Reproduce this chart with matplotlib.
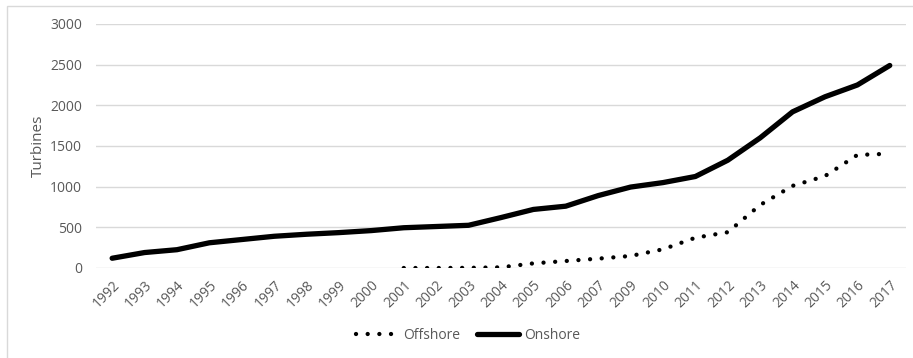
import matplotlib
matplotlib.use("Agg")
import matplotlib.pyplot as plt
from matplotlib.patches import Rectangle

plt.rcParams['font.family'] = ['Open Sans', 'DejaVu Sans']

# Wind turbines installed per year (2008 not reported)
years = ['1992', '1993', '1994', '1995', '1996', '1997', '1998', '1999', '2000',
         '2001', '2002', '2003', '2004', '2005', '2006', '2007', '2009', '2010',
         '2011', '2012', '2013', '2014', '2015', '2016', '2017']
onshore = [120, 190, 225, 310, 350, 390, 415, 435, 460, 495, 510, 525, 620, 720,
           760, 890, 995, 1050, 1125, 1325, 1600, 1920, 2105, 2250, 2490]
# offshore series starts in 2001
offshore = [None] * 9 + [0, 0, 2, 8, 57, 86, 115, 148, 230, 372, 440, 775,
                         1010, 1130, 1390, 1405]

x = list(range(len(years)))
off_x = [i for i, v in zip(x, offshore) if v is not None]
off_y = [v for v in offshore if v is not None]

fig = plt.figure(figsize=(9.13, 3.58), dpi=100)
ax = fig.add_axes([0.1051, 0.2514, 0.8872, 0.6816])

ax.plot(off_x, off_y, color='black', lw=3.1, dashes=(0.01, 2.7),
        dash_capstyle='round', label='Offshore')
ax.plot(x, onshore, color='black', lw=3.8, solid_capstyle='round',
        label='Onshore')

ax.set_xlim(-0.5, len(years) - 0.5)
ax.set_ylim(0, 3000)
ax.set_yticks(range(0, 3001, 500))
ax.set_xticks(x)
ax.set_xticklabels(years, rotation=45, ha='right', va='top',
                   rotation_mode='anchor')
ax.tick_params(axis='both', length=0, labelsize=10, labelcolor='#595959')
ax.tick_params(axis='y', pad=10)
ax.tick_params(axis='x', pad=7)
ax.grid(axis='y', color='#d9d9d9', lw=1)
ax.set_axisbelow(True)
for s in ax.spines.values():
    s.set_visible(False)

ax.set_ylabel('Turbines', fontsize=11, color='#595959', labelpad=3)

fig.legend(loc='center', bbox_to_anchor=(0.513, 0.064), ncol=2, frameon=False,
           fontsize=10, labelcolor='#595959', handlelength=3,
           columnspacing=1.2, handletextpad=0.4)

# chart area border
fig.patches.append(Rectangle((7 / 913, -0.1), 1.2, 1 - 6 / 358 + 0.1,
                             transform=fig.transFigure, fill=False,
                             edgecolor='#d9d9d9', lw=1))

fig.savefig('out.png', dpi=100)
